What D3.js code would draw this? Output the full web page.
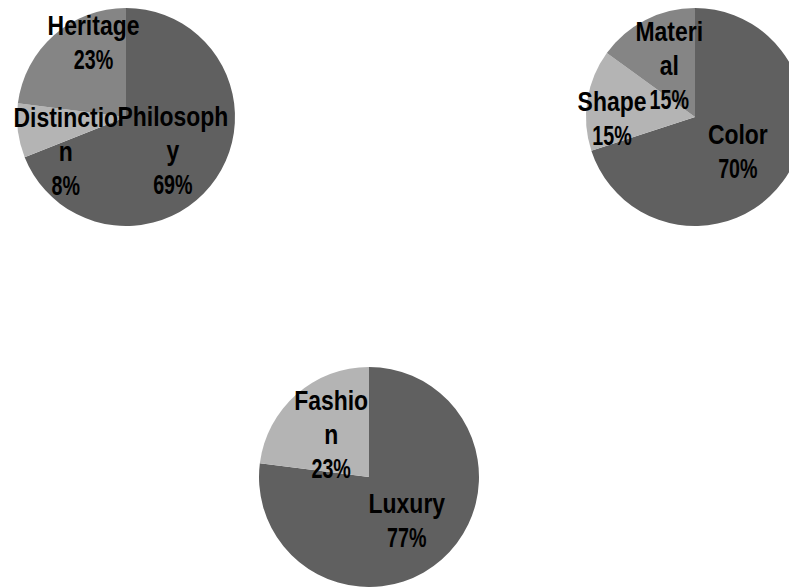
<!DOCTYPE html>
<html>
<head>
<meta charset="utf-8">
<script src="https://cdn.jsdelivr.net/npm/d3@7"></script>
<style>
  html, body { margin: 0; padding: 0; background: #ffffff; }
  svg { display: block; }
</style>
</head>
<body>
<svg id="chart" width="789" height="587"></svg>
<script>
// Brand attribute shares, one pie per group
const valuesA = [69, 8, 23];
const categoriesA = ["Philosophy", "Distinction", "Heritage"];

const valuesB = [70, 15, 15];
const categoriesB = ["Color", "Shape", "Material"];

const valuesC = [77, 23];
const categoriesC = ["Luxury", "Fashion"];

// slice fills by position in each pie
const fills = ["#606060", "#b4b4b4", "#858585"];

// pie placement
const pies = [
  { cats: categoriesA, vals: valuesA, cx: 126, cy: 117, r: 109 },
  { cats: categoriesB, vals: valuesB, cx: 695, cy: 117, r: 109 },
  { cats: categoriesC, vals: valuesC, cx: 369, cy: 477, r: 110 }
];

// labels wrap by character when the name is wider than its box
const wrapChars = { Philosophy: 9, Distinction: 10, Material: 6, Fashion: 6 };
// small slices push their labels clear of neighbours
const labelShift = {
  Distinction: [-4, 27],
  Heritage: [5, -32],
  Shape: [-27, 10],
  Material: [0, -1],
  Color: [-3, 1],
  Philosophy: [0, 1]
};

const svg = d3.select("#chart");
const pie = d3.pie().sort(null).value(d => d.v);
const fontSize = 27, lineGap = 34, capHalf = 9.8;
const squeezeName = 0.85, squeezePct = 0.73;

function wrap(name) {
  const n = wrapChars[name];
  if (!n) return [name];
  const out = [];
  for (let i = 0; i < name.length; i += n) out.push(name.slice(i, i + n));
  return out;
}

pies.forEach(p => {
  const data = p.cats.map((c, i) => ({ c, v: p.vals[i], i }));
  const total = d3.sum(p.vals);
  const arcs = pie(data);
  const arc = d3.arc().innerRadius(0).outerRadius(p.r);
  const labelArc = d3.arc().innerRadius(p.r * 0.52).outerRadius(p.r * 0.52);

  const g = svg.append("g").attr("transform", `translate(${p.cx},${p.cy})`);

  g.selectAll("path.slice")
    .data(arcs)
    .join("path")
    .attr("class", "slice")
    .attr("d", arc)
    .attr("fill", d => fills[d.data.i]);

  arcs.forEach(d => {
    const [x0, y0] = labelArc.centroid(d);
    const sh = labelShift[d.data.c] || [0, 0];
    const x = x0 + sh[0], y = y0 + sh[1];
    const names = wrap(d.data.c);
    const lines = names.map(t => ({ t, s: squeezeName }))
      .concat([{ t: Math.round(d.data.v / total * 100) + "%", s: squeezePct }]);
    const n = lines.length;
    lines.forEach((ln, k) => {
      const by = y + (k - (n - 1) / 2) * lineGap + capHalf;
      g.append("text")
        .attr("transform", `translate(${x},${by}) scale(${ln.s},1)`)
        .attr("text-anchor", "middle")
        .attr("font-family", "'Liberation Sans', Arial, sans-serif")
        .attr("font-weight", "bold")
        .attr("font-size", fontSize)
        .attr("fill", "#000000")
        .text(ln.t);
    });
  });
});
</script>
</body>
</html>
